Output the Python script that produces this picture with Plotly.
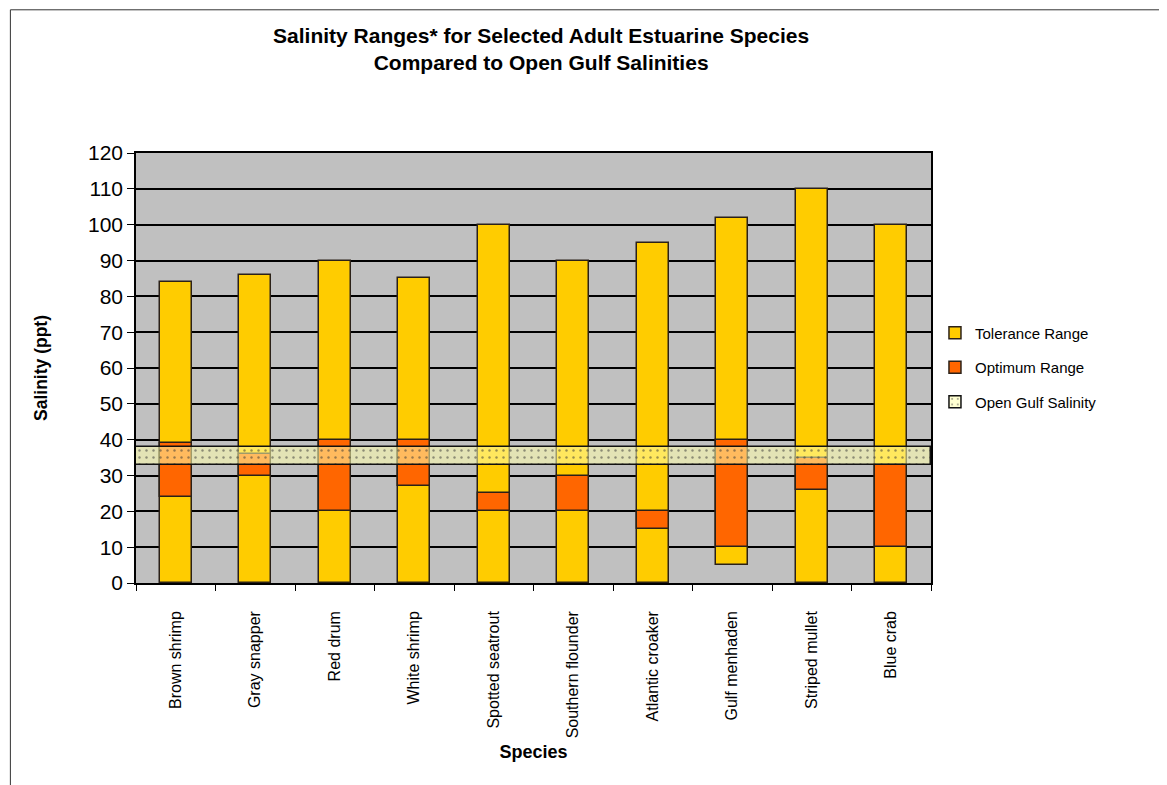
"""
Salinity ranges for estuarine species vs. open Gulf salinity.
"""

import plotly.graph_objects as go

SPECIES = ["Brown shrimp", "Gray snapper", "Red drum", "White shrimp",
           "Spotted seatrout", "Southern flounder", "Atlantic croaker",
           "Gulf menhaden", "Striped mullet", "Blue crab"]
TOL_MIN = [0, 0, 0, 0, 0, 0, 0, 5, 0, 0]
TOL_MAX = [84, 86, 90, 85, 100, 90, 95, 102, 110, 100]
OPT_MIN = [24, 30, 20, 27, 20, 20, 15, 10, 26, 10]
OPT_MAX = [39, 36, 40, 40, 25, 30, 20, 40, 35, 33]
GULF_LOW = 33
GULF_HIGH = 38

Y_TICKS = list(range(0, 121, 10))

GELB = "#FFCC00"
ORANGE = "#FF6600"
KANTE = "#2b2118"
FONT = "Liberation Sans, Arial, sans-serif"

x = list(range(len(SPECIES)))

fig = go.Figure()
fig.add_trace(go.Bar(
    x=x, y=[hi - lo for lo, hi in zip(TOL_MIN, TOL_MAX)], base=TOL_MIN,
    name="Tolerance Range", width=0.4, legendgroup="a",
    marker={"color": GELB, "line": {"color": KANTE, "width": 1.5}},
))
fig.add_trace(go.Bar(
    x=x, y=[hi - lo for lo, hi in zip(OPT_MIN, OPT_MAX)], base=OPT_MIN,
    name="Optimum Range", width=0.4, legendgroup="b",
    marker={"color": ORANGE, "line": {"color": KANTE, "width": 1.5}},
))
# Band über die ganze Breite der Kategorien
fig.add_trace(go.Bar(
    x=[(len(SPECIES) - 1) / 2], y=[GULF_HIGH - GULF_LOW], base=[GULF_LOW],
    width=len(SPECIES), name="Open Gulf Salinity", legendgroup="c",
    marker={"color": "rgba(255,255,170,0.55)",
            "line": {"color": "#111111", "width": 1.5},
            "pattern": {"shape": ".", "fgcolor": "#333333", "size": 7,
                        "solidity": 0.1}},
))

# Body-Rand der HTML-Seite (8px) wird über die Ränder ausgeglichen
fig.update_layout(
    width=1159, height=777,
    barmode="overlay",
    paper_bgcolor="white",
    plot_bgcolor="#C0C0C0",
    font={"family": FONT, "color": "black"},
    margin=dict(l=128, r=236, t=145, b=202, autoexpand=False),
    title={
        "text": "<b>Salinity Ranges* for Selected Adult Estuarine Species<br>"
                "Compared to Open Gulf Salinities</b>",
        "x": 0.46, "xanchor": "center", "y": 0.955, "yanchor": "top",
        "font": {"size": 21, "family": FONT},
    },
    legend={
        "x": 1.005, "xanchor": "left", "y": 0.62, "yanchor": "top",
        "font": {"size": 15, "family": FONT},
        "tracegroupgap": 12, "itemwidth": 30,
        "bgcolor": "rgba(0,0,0,0)",
    },
    showlegend=True,
    bargap=0,
)

fig.update_xaxes(
    range=[-0.5, len(SPECIES) - 0.5],
    tickvals=x, ticktext=SPECIES, tickangle=-90,
    tickfont={"size": 16}, ticks="", ticklabelstandoff=20,
    minor={"tick0": -0.5, "dtick": 1, "ticks": "outside", "ticklen": 6,
           "tickcolor": "black", "showgrid": False},
    showline=True, linecolor="black", linewidth=1.5, mirror=True,
    showgrid=False, zeroline=False,
    title={"text": "<b>Species</b>", "font": {"size": 18}, "standoff": 8},
)
fig.update_yaxes(
    range=[0, 120], tickvals=Y_TICKS,
    tickfont={"size": 21}, ticks="outside", ticklen=7, tickcolor="black",
    showline=True, linecolor="black", linewidth=1.5, mirror=True,
    showgrid=True, gridcolor="black", gridwidth=1.5, zeroline=False,
    title={"text": "<b>Salinity (ppt)</b>", "font": {"size": 17.5}, "standoff": 36},
)

# Rahmen um das gesamte Diagramm
fig.add_shape(type="rect", xref="paper", yref="paper",
              x0=-0.158, x1=1.4, y0=-0.6, y1=1.333,
              line={"color": "#333333", "width": 1}, layer="below")

fig.write_html("out.html")
